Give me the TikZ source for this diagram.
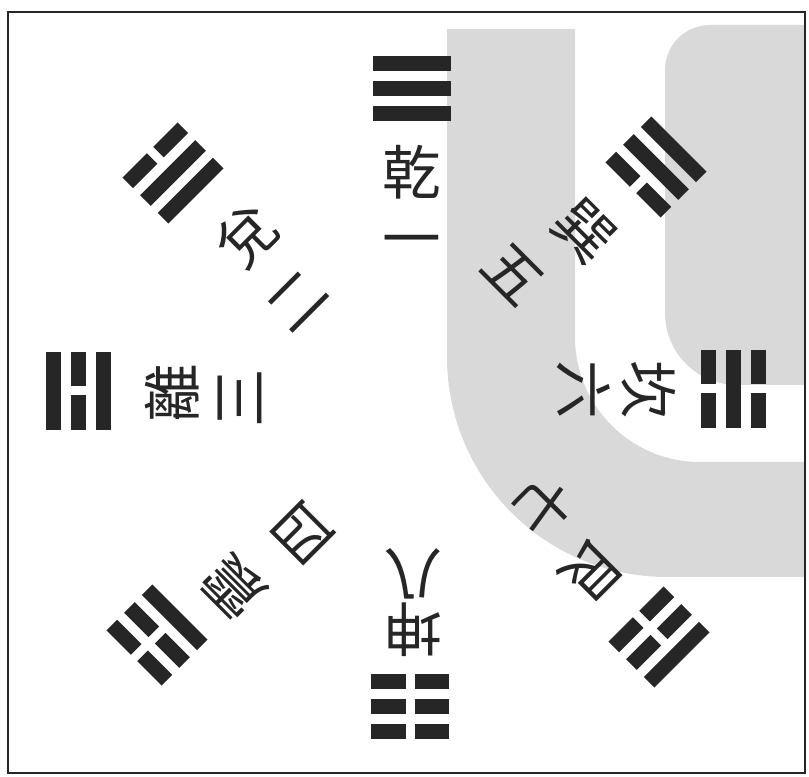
\documentclass[tikz,border=0pt]{standalone}
\usepackage{fontspec}
\newfontfamily\cjk{Noto Sans CJK TC}
\colorlet{ink}{black!85}
\colorlet{wgray}{black!15}
% one line of a trigram: #1 offset, #2 = 1 solid / 0 broken
\newcommand{\yao}[2]{%
  \ifnum#2=1
    \fill[ink] (-39,#1-7.5) rectangle (39,#1+7.5);
  \else
    \fill[ink] (-39,#1-7.5) rectangle (-4.5,#1+7.5);
    \fill[ink] (4.5,#1-7.5) rectangle (39,#1+7.5);
  \fi}
% trigram: #1 place, #2 turn, #3 inner, #4 middle, #5 outer line
\newcommand{\gua}[5]{%
  \begin{scope}[shift={(#1)}, rotate=#2]
    \yao{-25}{#3}\yao{0}{#4}\yao{25}{#5}
  \end{scope}}
\begin{document}
\begin{tikzpicture}[x=0.03cm, y=0.03cm,
    word/.style = {font=\cjk\fontsize{50}{50}\selectfont, text=ink, inner sep=0pt,
                   text height=40pt, text depth=2pt}]
        \useasboundingbox (0,0) rectangle (809,776);
        \fill[wgray] (447,747) -- (447,419) arc[start angle=180, end angle=270, radius=220]
                    -- (804,199) -- (804,314) -- (700,314)
                    arc[start angle=270, end angle=180, radius=125] -- (575,747) -- cycle;
        \fill[wgray] (804,751) -- (710,751) arc[start angle=90, end angle=180, radius=45]
                    -- (665,463) arc[start angle=180, end angle=270, radius=72] -- (804,391) -- cycle;
        \draw[ink, line width=1.6pt] (8,764) rectangle (805,3);
        \coordinate (g-qian)  at (412,687);
        \coordinate (g-dui)   at (173,603);
        \coordinate (g-li)    at ( 78,385);
        \coordinate (g-zhen)  at (157,141);
        \coordinate (g-kun)   at (410, 70);
        \coordinate (g-gen)   at (659,139);
        \coordinate (g-kan)   at (733,387);
        \coordinate (g-xun)   at (656,609);
        \gua{g-qian}{0}{1}{1}{1}
        \gua{g-dui}{45}{1}{1}{0}
        \gua{g-li}{90}{1}{0}{1}
        \gua{g-zhen}{135}{1}{0}{0}
        \gua{g-kun}{180}{0}{0}{0}
        \gua{g-gen}{225}{0}{0}{1}
        \gua{g-kan}{270}{0}{1}{0}
        \gua{g-xun}{315}{0}{1}{1}
        \node[word]             (qian)   at (412,604) {乾};
        \node[word]             (n-qian) at (412,538) {一};
        \node[word, rotate=45]  (dui)    at (246,540) {兌};
        \node[word, rotate=45]  (n-dui)  at (296,476) {二};
        \node[word, rotate=90]  (li)     at (172,383) {離};
        \node[word, rotate=90]  (n-li)   at (239,378) {三};
        \node[word, rotate=135] (zhen)   at (233,188) {震};
        \node[word, rotate=135] (n-zhen) at (302,242) {四};
        \node[word, rotate=180] (kun)    at (413,146) {坤};
        \node[word, rotate=180] (n-kun)  at (413,200) {八};
        \node[word, rotate=225] (gen)    at (593,204) {艮};
        \node[word, rotate=225] (n-gen)  at (543,270) {七};
        \node[word, rotate=270] (kan)    at (649,386) {坎};
        \node[word, rotate=270] (n-kan)  at (584,386) {六};
        \node[word, rotate=315] (xun)    at (585,546) {巽};
        \node[word, rotate=315] (n-xun)  at (514,503) {五};
\end{tikzpicture}
\end{document}
